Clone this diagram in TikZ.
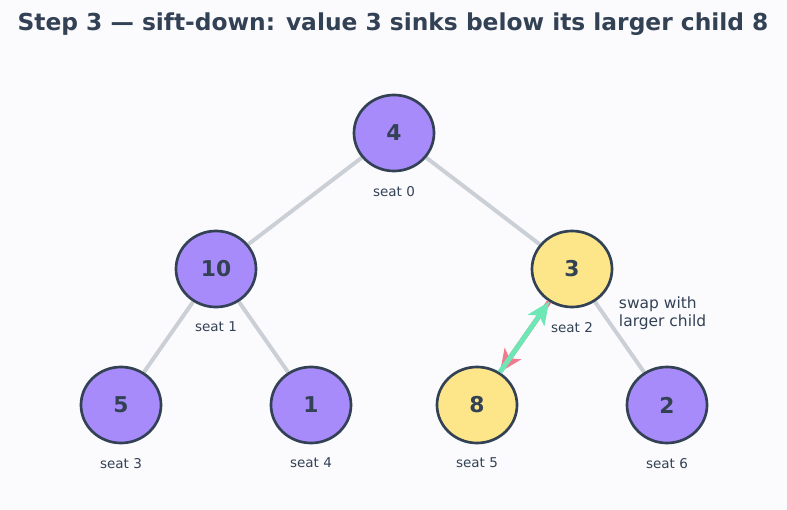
\documentclass[tikz,border=0pt]{standalone}
\usepackage{fontspec}
\setmainfont{DejaVu Sans}
\usetikzlibrary{positioning, arrows.meta, shapes.geometric}

\definecolor{ink}{HTML}{334155}
\definecolor{heapfill}{HTML}{A78BFA}
\definecolor{swapfill}{HTML}{FDE68A}
\definecolor{edgegray}{HTML}{CBCFD6}
\definecolor{upgreen}{HTML}{6EE7B7}
\definecolor{downpink}{HTML}{F27A8E}
\definecolor{paper}{HTML}{FBFBFE}

\pgfdeclarelayer{paperlayer}
\pgfdeclarelayer{edgelayer}
\pgfsetlayers{paperlayer,edgelayer,main}

\begin{document}
\begin{tikzpicture}[x=0.025cm, y=-0.025cm, node distance=0.3cm,
  heap node/.style={ellipse, draw=ink, line width=1.9pt, fill=heapfill,
    minimum width=2cm, minimum height=1.9cm, inner sep=0pt,
    text=ink, font=\fontsize{15.5}{18}\selectfont\bfseries},
  swap node/.style={heap node, fill=swapfill},
  seat/.style={text=ink, font=\fontsize{9.6}{11}\selectfont, inner sep=1pt},
  tree edge/.style={draw=edgegray, line width=2.8pt},
  swap arrow/.style={line width=3.5pt, -{Stealth[length=16pt, width=14pt, inset=4pt]}}]

\begin{pgfonlayer}{paperlayer}
\fill[paper] (0,0) rectangle (787,510);
\end{pgfonlayer}
\useasboundingbox (0,0) rectangle (787,510);

\node[text=ink, font=\fontsize{16.6}{19}\selectfont\bfseries] (title) at (393,24)
  {Step 3 — sift-down: value 3 sinks below its larger child 8};

% heap
\node[heap node] (n0) at (394,133) {4};
\node[heap node] (n1) at (216,269) {10};
\node[swap node] (n2) at (572,269) {3};
\node[heap node] (n3) at (121,405) {5};
\node[heap node] (n4) at (311,405) {1};
\node[swap node] (n5) at (477,405) {8};
\node[heap node] (n6) at (667,405) {2};

\node[seat] (s0) [below=of n0] {seat 0};
\node[seat] (s1) [below=of n1] {seat 1};
\node[seat] (s2) [below=of n2] {seat 2};
\node[seat] (s3) [below=of n3] {seat 3};
\node[seat] (s4) [below=of n4] {seat 4};
\node[seat] (s5) [below=of n5] {seat 5};
\node[seat] (s6) [below=of n6] {seat 6};

% edges behind the nodes
\begin{pgfonlayer}{edgelayer}
\path[tree edge] (n0) -- (n1) (n0) -- (n2) (n1) -- (n3) (n1) -- (n4)
  (n2) -- (n5) (n2) -- (n6);
\end{pgfonlayer}

% the swap
\draw[swap arrow, downpink] (n2) -- (n5);
\draw[swap arrow, upgreen] (n5) -- (n2);

\node[text=ink, font=\fontsize{11}{12.5}\selectfont, align=left, anchor=west]
  (note) at (614,313) {swap with\\larger child};

\end{tikzpicture}
\end{document}
